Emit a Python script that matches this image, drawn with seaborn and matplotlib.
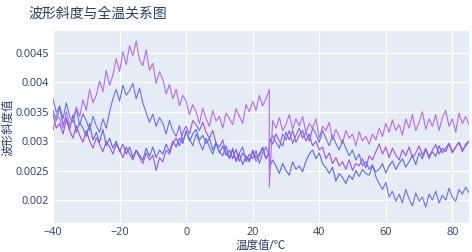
import numpy as np
import pandas as pd
import matplotlib
matplotlib.use('Agg')
import matplotlib.pyplot as plt
import seaborn as sns

# temperature grid: first run -40..25, second run 25..85 (the two runs meet at 25)
temps_a = list(range(-40, 26))
temps_b = list(range(25, 86))

# waveform slope readings, in units of 1e-5
p1_a = [318, 345, 338, 322, 350, 328, 336, 358, 342, 370,
        352, 388, 365, 378, 402, 384, 420, 395, 412, 440,
        418, 452, 430, 462, 445, 470, 438, 428, 455, 420,
        432, 398, 418, 405, 380, 396, 372, 388, 360, 378,
        368, 345, 362, 350, 330, 356, 338, 325, 352, 334,
        342, 322, 348, 338, 328, 355, 342, 330, 362, 350,
        368, 352, 378, 360, 372, 388]
p1_b = [222, 335, 322, 340, 318, 328, 345, 320, 338, 326,
        342, 315, 330, 322, 338, 305, 325, 318, 332, 302,
        320, 308, 296, 318, 305, 312, 292, 316, 300, 308,
        295, 312, 302, 322, 308, 330, 315, 336, 318, 328,
        310, 338, 322, 345, 318, 332, 350, 320, 338, 325,
        345, 318, 340, 352, 325, 338, 315, 348, 330, 342,
        328]

b1_a = [372, 348, 360, 338, 365, 342, 332, 355, 328, 346,
        335, 318, 342, 326, 315, 338, 322, 350, 372, 388,
        368, 395, 378, 386, 398, 372, 390, 365, 348, 332,
        346, 325, 340, 330, 312, 335, 318, 308, 326, 300,
        315, 305, 292, 312, 298, 285, 305, 290, 278, 296,
        282, 275, 292, 270, 285, 268, 280, 290, 265, 278,
        270, 284, 262, 280, 290, 275]
b1_b = [295, 310, 298, 288, 312, 302, 318, 296, 310, 322,
        305, 315, 300, 322, 312, 298, 318, 305, 292, 310,
        296, 285, 302, 288, 275, 285, 268, 278, 258, 265,
        252, 260, 240, 228, 218, 230, 205, 215, 198, 210,
        195, 218, 202, 190, 212, 198, 205, 188, 210, 200,
        215, 195, 208, 200, 220, 205, 198, 218, 210, 222,
        212]

c_a = [345, 322, 330, 312, 336, 318, 305, 326, 310, 298,
       318, 300, 288, 306, 295, 282, 300, 290, 278, 295,
       285, 272, 290, 278, 268, 284, 272, 262, 280, 268,
       276, 250, 272, 265, 285, 278, 296, 305, 292, 315,
       325, 312, 335, 328, 318, 332, 315, 305, 318, 296,
       290, 302, 280, 272, 288, 265, 278, 260, 275, 268,
       282, 266, 275, 288, 270, 280]
c_b = [305, 295, 312, 300, 292, 315, 302, 318, 298, 310,
       318, 300, 312, 292, 300, 285, 290, 270, 280, 262,
       272, 258, 265, 252, 268, 250, 262, 258, 270, 255,
       275, 268, 282, 295, 278, 290, 272, 288, 276, 268,
       285, 275, 290, 272, 280, 292, 276, 288, 270, 285,
       294, 278, 288, 282, 296, 280, 290, 298, 282, 295,
       300]

d_a = [352, 335, 358, 328, 340, 320, 345, 315, 332, 322,
       308, 330, 302, 315, 298, 320, 292, 305, 288, 300,
       282, 295, 278, 290, 272, 285, 276, 268, 288, 274,
       290, 272, 285, 278, 295, 282, 300, 290, 305, 296,
       318, 300, 312, 320, 302, 310, 296, 305, 285, 298,
       280, 292, 276, 285, 270, 286, 266, 280, 272, 265,
       285, 272, 278, 290, 270, 282]
d_b = [255, 268, 258, 245, 262, 250, 242, 265, 252, 258,
       248, 266, 278, 285, 270, 280, 262, 255, 245, 256,
       232, 245, 238, 228, 242, 235, 250, 240, 252, 245,
       242, 258, 248, 252, 262, 246, 258, 266, 252, 262,
       270, 256, 265, 276, 260, 280, 270, 285, 275, 282,
       274, 292, 280, 288, 296, 282, 290, 298, 285, 292,
       300]

series_names = ['d', 'b1', 'c', 'p1']
series_colors = ['#5d68f2', '#6a6ff8', '#9a52f2', '#b36cf4']

rows = []
for name, a, b in [('d', d_a, d_b), ('b1', b1_a, b1_b), ('c', c_a, c_b), ('p1', p1_a, p1_b)]:
    for t, v in zip(temps_a + temps_b, a + b):
        rows.append({'temp': t, 'slope': v / 1e5, 'series': name})
df = pd.DataFrame(rows)

sns.set_style('darkgrid', {'axes.facecolor': '#e5ecf6', 'grid.color': 'white'})
plt.rcParams['font.family'] = ['Open Sans', 'Noto Sans CJK SC', 'DejaVu Sans']
text_color = '#2a3f5f'

fig = plt.figure(figsize=(4.72, 2.52), dpi=100)
ax = fig.add_axes([53 / 472, 1 - 223 / 252, 416 / 472, 192 / 252])

sns.lineplot(data=df, x='temp', y='slope', hue='series', hue_order=series_names,
             palette=series_colors, estimator=None, sort=False, legend=False,
             linewidth=0.8, ax=ax)

ax.set_xlim(-40, 85)
ax.set_ylim(0.00161, 0.00487)
ax.set_xticks([-40, -20, 0, 20, 40, 60, 80])
ax.set_yticks([0.002, 0.0025, 0.003, 0.0035, 0.004, 0.0045])
ax.set_yticklabels(['0.002', '0.0025', '0.003', '0.0035', '0.004', '0.0045'])
ax.tick_params(length=0, labelsize=7.8, labelcolor=text_color, pad=3)
ax.grid(True, color='white', linewidth=0.9)
for s in ax.spines.values():
    s.set_visible(False)
ax.set_xlabel('')
ax.set_ylabel('')

fig.text(28 / 472, 1 - 14.5 / 252, '波形斜度与全温关系图', fontsize=10, color=text_color,
         ha='left', va='center')
fig.text(261 / 472, 1 - 245 / 252, '温度值/℃', fontsize=8.3, color=text_color,
         ha='center', va='center')
fig.text(8 / 472, 1 - 127 / 252, '波形斜度值', fontsize=8.3, color=text_color,
         ha='center', va='center', rotation=90)

fig.savefig('out.png', dpi=100)
